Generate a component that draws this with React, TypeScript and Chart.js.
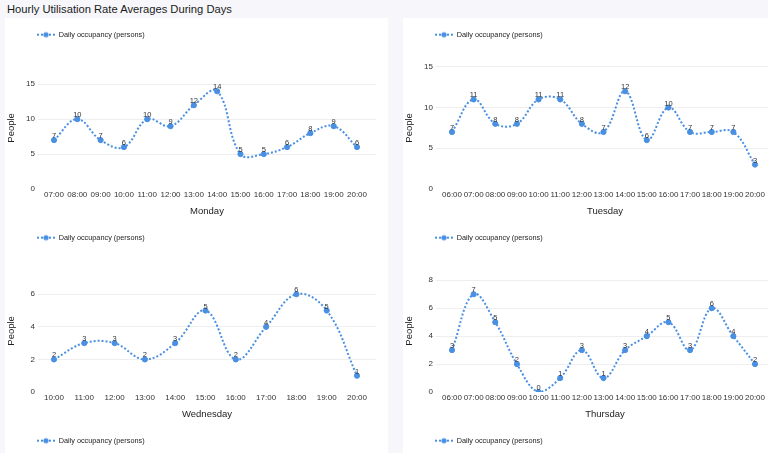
import React, { useEffect, useRef } from 'react';
import { Chart, registerables } from 'chart.js';

Chart.register(...registerables);

const PAGE_TITLE = 'Hourly Utilisation Rate Averages During Days';
const SERIES_LABEL = 'Daily occupancy (persons)';
const Y_TITLE = 'People';

const mondayHours = ['07:00', '08:00', '09:00', '10:00', '11:00', '12:00', '13:00', '14:00', '15:00', '16:00', '17:00', '18:00', '19:00', '20:00'];
const mondayValues = [7, 10, 7, 6, 10, 9, 12, 14, 5, 5, 6, 8, 9, 6];
const mondayTicks = [0, 5, 10, 15];

const tuesdayHours = ['06:00', '07:00', '08:00', '09:00', '10:00', '11:00', '12:00', '13:00', '14:00', '15:00', '16:00', '17:00', '18:00', '19:00', '20:00'];
const tuesdayValues = [7, 11, 8, 8, 11, 11, 8, 7, 12, 6, 10, 7, 7, 7, 3];
const tuesdayTicks = [0, 5, 10, 15];

const wednesdayHours = ['10:00', '11:00', '12:00', '13:00', '14:00', '15:00', '16:00', '17:00', '18:00', '19:00', '20:00'];
const wednesdayValues = [2, 3, 3, 2, 3, 5, 2, 4, 6, 5, 1];
const wednesdayTicks = [0, 2, 4, 6];

const thursdayHours = ['06:00', '07:00', '08:00', '09:00', '10:00', '11:00', '12:00', '13:00', '14:00', '15:00', '16:00', '17:00', '18:00', '19:00', '20:00'];
const thursdayValues = [3, 7, 5, 2, 0, 1, 3, 1, 3, 4, 5, 3, 6, 4, 2];
const thursdayTicks = [0, 2, 4, 6, 8];

// Next row is cut off by the viewport; only its legends are visible (values unknown).
const fridayHours: string[] = [];
const fridayValues: number[] = [];
const fridayTicks: number[] = [];
const saturdayHours: string[] = [];
const saturdayValues: number[] = [];
const saturdayTicks: number[] = [];

const FONT = '"Liberation Sans", Arial, Helvetica, sans-serif';
const BLUE = '#4a90e2';
const TEXT = '#333333';
const GRID = '#eeeeee';
const INSET_L = 16;
const INSET_R = 19;

function makeLegendImage(): HTMLCanvasElement {
  const c = document.createElement('canvas');
  c.width = 40;
  c.height = 8;
  const g = c.getContext('2d')!;
  g.strokeStyle = BLUE;
  g.lineWidth = 2;
  g.setLineDash([2, 2]);
  g.beginPath();
  g.moveTo(22, 4);
  g.lineTo(40, 4);
  g.stroke();
  g.setLineDash([]);
  g.fillStyle = BLUE;
  g.beginPath();
  g.arc(31, 4, 2.6, 0, Math.PI * 2);
  g.fill();
  return c;
}

const valueLabels = {
  id: 'valueLabels',
  afterDatasetsDraw(chart: any) {
    const ctx = chart.ctx;
    chart.data.datasets.forEach((ds: any, i: number) => {
      const meta = chart.getDatasetMeta(i);
      meta.data.forEach((pt: any, j: number) => {
        const d = ds.data[j];
        ctx.save();
        ctx.font = `7.5px ${FONT}`;
        ctx.fillStyle = TEXT;
        ctx.textAlign = 'center';
        ctx.textBaseline = 'alphabetic';
        ctx.fillText(String(d.y), pt.x, pt.y - 2);
        ctx.restore();
      });
    });
  },
};

const legendSpacer = {
  id: 'legendSpacer',
  beforeLayout(chart: any) {
    const lg = chart.legend;
    if (lg && !lg.__spaced) {
      const orig = lg.fit.bind(lg);
      lg.fit = function () {
        orig();
        this.height += 18.5;
      };
      lg.__spaced = true;
    }
  },
};

type DayProps = { day: string; hours: string[]; values: number[]; yTicks: number[] };

function DayChart({ day, hours, values, yTicks }: DayProps) {
  const ref = useRef<HTMLCanvasElement>(null);
  useEffect(() => {
    if (!ref.current) return;
    const n = hours.length;
    const yMax = values.length ? Math.max(...values) * 1.25 : 1;
    const chart = new Chart(ref.current, {
      type: 'line',
      data: {
        datasets: [
          {
            label: SERIES_LABEL,
            data: values.map((v, i) => ({ x: i, y: v })),
            borderColor: BLUE,
            backgroundColor: BLUE,
            borderWidth: 2,
            borderDash: [2, 2],
            tension: 0.4,
            fill: false,
            pointRadius: 2.6,
            pointBackgroundColor: BLUE,
            pointBorderColor: BLUE,
            pointBorderWidth: 1,
          },
        ],
      },
      options: {
        animation: false,
        responsive: true,
        maintainAspectRatio: false,
        layout: { padding: { top: 3, right: 12, left: 0, bottom: 0 } },
        plugins: {
          tooltip: { enabled: false },
          legend: {
            display: true,
            position: 'top',
            align: 'start',
            labels: {
              usePointStyle: true,
              pointStyle: makeLegendImage(),
              pointStyleWidth: 40,
              padding: 10,
              color: '#222',
              font: { family: FONT, size: 7.3 },
            },
          },
        },
        scales: {
          x: {
            type: 'linear',
            bounds: 'data',
            afterDataLimits(scale: any) {
              if (n < 2) return;
              const unit = (scale.width - INSET_L - INSET_R) / (n - 1);
              scale.min = -INSET_L / unit;
              scale.max = n - 1 + INSET_R / unit;
            },
            afterBuildTicks(scale: any) {
              scale.ticks = hours.map((_, i) => ({ value: i }));
            },
            ticks: {
              callback: (v: any) => hours[v] ?? '',
              autoSkip: false,
              maxRotation: 0,
              minRotation: 0,
              padding: 1,
              color: TEXT,
              font: { family: FONT, size: 8 },
            },
            grid: { display: false, drawTicks: false },
            border: { display: false },
            title: {
              display: true,
              text: day,
              color: '#222',
              font: { family: FONT, size: 9.5 },
              padding: { top: 5, bottom: 4 },
            },
          },
          y: {
            min: 0,
            max: yMax,
            afterBuildTicks(scale: any) {
              if (yTicks.length) scale.ticks = yTicks.map((v) => ({ value: v }));
            },
            afterFit(scale: any) {
              scale.width = 33;
            },
            grid: {
              drawTicks: false,
              color: (c: any) => (c.tick && c.tick.value === 0 ? 'rgba(0,0,0,0)' : GRID),
            },
            border: { display: false },
            ticks: { padding: 3, color: TEXT, font: { family: FONT, size: 8 } },
            title: {
              display: true,
              text: Y_TITLE,
              color: '#222',
              font: { family: FONT, size: 9.5 },
              padding: { top: 1, bottom: 0 },
            },
          },
        },
      } as any,
      plugins: [valueLabels, legendSpacer],
    });
    return () => chart.destroy();
  }, []);
  return (
    <div style={{ position: 'relative', height: 203 }}>
      <canvas ref={ref} />
    </div>
  );
}

export default function App() {
  return (
    <div
      style={{
        position: 'fixed',
        left: 0,
        top: 0,
        width: '100vw',
        height: '100vh',
        overflow: 'hidden',
        background: '#f7f7fb',
        fontFamily: FONT,
      }}
    >
      <div style={{ position: 'absolute', left: 7, top: 0, height: 18, lineHeight: '18px', fontSize: 11.2, color: '#1a1a1a', whiteSpace: 'nowrap' }}>
        {PAGE_TITLE}
      </div>
      <div style={{ position: 'absolute', left: 5, top: 18, width: 383, background: '#fff' }}>
        <DayChart day="Monday" hours={mondayHours} values={mondayValues} yTicks={mondayTicks} />
        <DayChart day="Wednesday" hours={wednesdayHours} values={wednesdayValues} yTicks={wednesdayTicks} />
        <DayChart day="Friday" hours={fridayHours} values={fridayValues} yTicks={fridayTicks} />
      </div>
      <div style={{ position: 'absolute', left: 403, top: 18, width: 383, background: '#fff' }}>
        <DayChart day="Tuesday" hours={tuesdayHours} values={tuesdayValues} yTicks={tuesdayTicks} />
        <DayChart day="Thursday" hours={thursdayHours} values={thursdayValues} yTicks={thursdayTicks} />
        <DayChart day="Saturday" hours={saturdayHours} values={saturdayValues} yTicks={saturdayTicks} />
      </div>
    </div>
  );
}
